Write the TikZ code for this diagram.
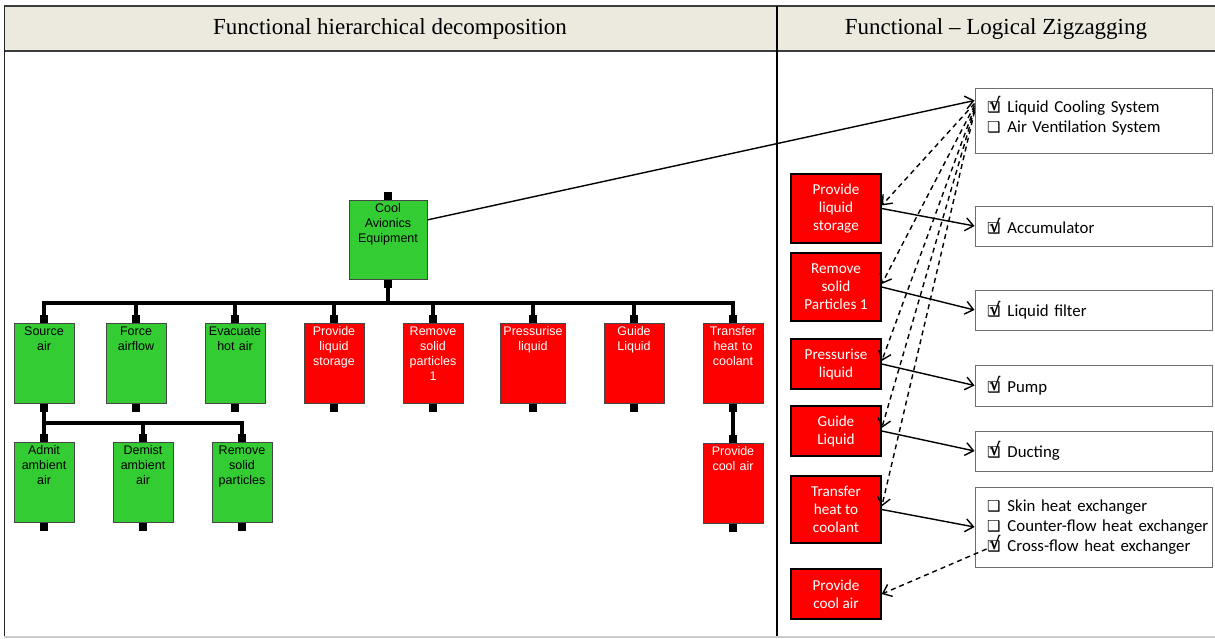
\documentclass[tikz,border=0pt]{standalone}
\usepackage{fontspec}
\setmainfont{Liberation Serif}
\newfontfamily\visiofont{Liberation Sans}
\newfontfamily\calfont{Carlito}
\newfontfamily\symfont{DejaVu Sans}
\usetikzlibrary{
  arrows.meta
  , calc
}
\definecolor{FuncGreen}{RGB}{51,204,51}
\definecolor{FuncRed}{RGB}{255,0,0}
\definecolor{TreeLine}{RGB}{70,70,70}
\definecolor{BoxLine}{RGB}{110,110,110}
\definecolor{HeadFill}{RGB}{236,233,223}
\definecolor{HeadLine}{RGB}{60,60,60}
\newcommand{\boxoff}{{\symfont\fontsize{15}{15}\selectfont ❑}}
\newcommand{\boxon}{\makebox[0pt][l]{\symfont\fontsize{17}{17}\selectfont\bfseries\kern2pt\raisebox{1.5pt}{√}}\boxoff}
\newcommand{\sol}[2]{\hspace*{12pt}#1\hspace{7pt}#2}

\begin{document}
\begin{tikzpicture}[
    x=1pt, y=-1pt,
    fnode/.style={draw=TreeLine, line width=0.8pt, anchor=north,
      inner xsep=2pt, inner ysep=2pt, text width=56pt, align=center,
      text height=10pt, text depth=66pt,
      font=\visiofont\fontsize{12.5}{15}\selectfont},
    okfn/.style={fnode, fill=FuncGreen},
    nofn/.style={fnode, fill=FuncRed, text=white},
    bus/.style={line width=4pt},
    zfn/.style={draw, line width=1.5pt, fill=FuncRed, text=white,
      minimum width=90pt, inner sep=0pt, align=center,
      font=\calfont\fontsize{15.2}{18}\selectfont},
    lsol/.style={draw=BoxLine, line width=1pt, text width=237pt,
      inner xsep=0pt, align=left,
      font=\calfont\fontsize{16.8}{20}\selectfont},
    link/.style={line width=1.4pt, -{Straight Barb[length=8pt,width=13pt]}},
    trace/.style={link, dash pattern=on 5pt off 4pt},
  ]
  \useasboundingbox (0,0) rectangle (1215,638);
  \def\HeadTop {6};
  \def\HeadBot {51};

  % frame and header
  \fill[HeadFill] (4,\HeadTop) rectangle (1215,\HeadBot);
  \draw[HeadLine, line width=2.5pt] (4,\HeadTop) -- (1215,\HeadTop);
  \draw[HeadLine, line width=2.5pt] (4,\HeadBot) -- (1215,\HeadBot);
  \draw[black!85, line width=1.5pt] (4.5,\HeadTop) -- (4.5,638);
  \draw[black, line width=1.5pt] (777,\HeadTop) -- (777,638);
  \draw[black!20, line width=1.5pt] (4,637) -- (1215,637);
  \node (hdecomp) at (390,29) {\fontsize{23}{23}\selectfont Functional hierarchical decomposition};
  \node (hzigzag) at (996,29) {\fontsize{23}{23}\selectfont Functional -- Logical Zigzagging};

  % functional tree
  \node [okfn, text width=74pt, text depth=65pt] (cae) at (388,200) {Cool\\Avionics\\Equipment};
  \node [okfn] (src) at (44,323) {Source\\air};
  \node [okfn] (frc) at (136,323) {Force\\airflow};
  \node [okfn] (evc) at (235,323) {Evacuate\\hot air};
  \node [nofn] (pls) at (334,323) {Provide\\liquid\\storage};
  \node [nofn] (rsp) at (433,323) {Remove\\solid\\particles\\1};
  \node [nofn, text width=61pt] (prs) at (533,323) {Pressurise\\liquid};
  \node [nofn] (gdl) at (634,323) {Guide\\Liquid};
  \node [nofn] (thc) at (733,323) {Transfer\\heat to\\coolant};
  \node [okfn] (adm) at (44,442) {Admit\\ambient\\air};
  \node [okfn] (dem) at (143,442) {Demist\\ambient\\air};
  \node [okfn] (rms) at (242,442) {Remove\\solid\\particles};
  \node [nofn] (pca) at (733,443) {Provide\\cool air};

  \foreach \c in {src,frc,evc,pls,rsp,prs,gdl,thc}
    \draw[bus] (cae.south) -- ++(0,23) -| (\c.north);
  \foreach \c in {adm,dem,rms}
    \draw[bus] (src.south) -- ++(0,19) -| (\c.north);
  \draw[bus] (thc.south) -- (pca.north);

  \foreach \b in {cae,src,frc,evc,pls,rsp,prs,gdl,thc,adm,dem,rms,pca} {
    \fill ([xshift=-4pt]\b.north) rectangle ([xshift=4pt,yshift=8pt]\b.north);
    \fill ([xshift=-4pt]\b.south) rectangle ([xshift=4pt,yshift=-8pt]\b.south);
  }

  % zigzagging: functions
  \node [zfn, minimum height=69pt] (zpls) at (836,208.5) {Provide\\liquid\\storage};
  \node [zfn, minimum height=68pt] (zrsp) at (836,287) {Remove\\solid\\Particles 1};
  \node [zfn, minimum height=50pt] (zprs) at (836,364) {Pressurise\\liquid};
  \node [zfn, minimum height=50pt] (zgdl) at (836,431) {Guide\\Liquid};
  \node [zfn, minimum height=67pt] (zthc) at (836,509.5) {Transfer\\heat to\\coolant};
  \node [zfn, minimum height=50pt] (zpca) at (836,594) {Provide\\cool air};

  % zigzagging: logical solutions
  \node [lsol, minimum height=65pt, text depth=32pt] (lcs) at (1093.5,120.5)
    {\sol{\boxon}{Liquid Cooling System}\\\sol{\boxoff}{Air Ventilation System}};
  \node [lsol, minimum height=40pt] (acc) at (1093.5,226) {\sol{\boxon}{Accumulator}};
  \node [lsol, minimum height=40pt] (lfl) at (1093.5,310) {\sol{\boxon}{Liquid filter}};
  \node [lsol, minimum height=41pt] (pmp) at (1093.5,385.5) {\sol{\boxon}{Pump}};
  \node [lsol, minimum height=40pt] (dct) at (1093.5,451) {\sol{\boxon}{Ducting}};
  \node [lsol, minimum height=80pt] (hex) at (1093.5,527)
    {\sol{\boxoff}{Skin heat exchanger}\\\sol{\boxoff}{Counter-flow heat exchanger}\\\sol{\boxon}{Cross-flow heat exchanger}};

  \draw[link] ([yshift=20pt]cae.east) -- ([yshift=20pt]lcs.west);
  \draw[link] (zpls.east) -- (acc.west);
  \draw[link] (zrsp.east) -- (lfl.west);
  \draw[link] (zprs.east) -- (pmp.west);
  \draw[link] (zgdl.east) -- (dct.west);
  \draw[link] (zthc.east) -- (hex.west);

  \draw[trace] ([yshift=17pt]lcs.west) -- ([yshift=3pt]zpls.east);
  \draw[trace] ([yshift=15pt]lcs.west) -- ([yshift=3pt]zrsp.east);
  \draw[trace] ([yshift=13pt]lcs.west) -- ([yshift=3pt]zprs.east);
  \draw[trace] ([yshift=11pt]lcs.west) -- ([yshift=3pt]zgdl.east);
  \draw[trace] ([yshift=9pt]lcs.west) -- ([yshift=3pt]zthc.east);
  \draw[trace] ([xshift=12pt,yshift=-22pt]hex.west) -- (zpca.east);

\end{tikzpicture}
\end{document}
